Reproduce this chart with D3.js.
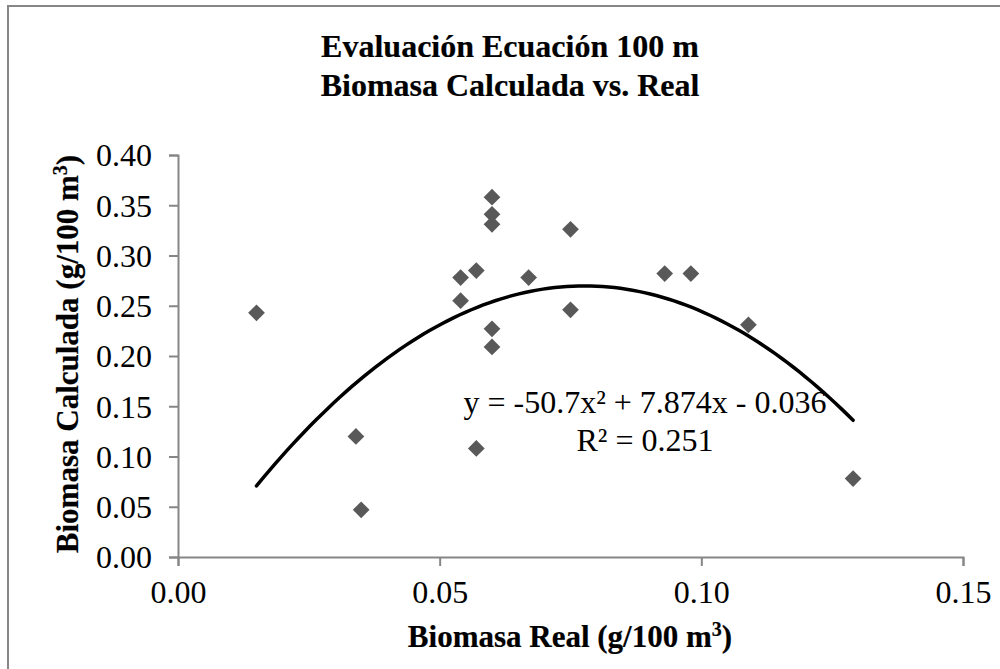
<!DOCTYPE html>
<html>
<head>
<meta charset="utf-8">
<script src="https://cdn.jsdelivr.net/npm/d3@7"></script>
</head>
<body style="margin:0;padding:0;background:#fff;">
<script>
// ---- data ----
const realX = [0.015, 0.034, 0.035, 0.054, 0.054, 0.057, 0.057, 0.060, 0.060, 0.060, 0.060, 0.060, 0.067, 0.075, 0.075, 0.093, 0.098, 0.109, 0.129];
const calcY = [0.243, 0.120, 0.047, 0.278, 0.255, 0.285, 0.108, 0.358, 0.341, 0.331, 0.227, 0.209, 0.278, 0.326, 0.246, 0.282, 0.282, 0.231, 0.078];
const xTicks = [0.00, 0.05, 0.10, 0.15];
const yTicks = [0.00, 0.05, 0.10, 0.15, 0.20, 0.25, 0.30, 0.35, 0.40];
const trendCoef = [-50.7, 7.874, -0.036]; // a x^2 + b x + c (from chart equation)
const trendRange = [0.015, 0.129];
const titleLines = ["Evaluación Ecuación 100 m", "Biomasa Calculada vs. Real"];
const eqLines = ["y = -50.7x² + 7.874x - 0.036", "R² = 0.251"];

const SERIF = "'Liberation Serif', 'Times New Roman', serif";
const W = 1000, H = 669;
const svg = d3.select("body").append("svg").attr("width", W).attr("height", H)
  .style("display", "block");

function boldText(sel, size) {
  return sel.style("font-family", SERIF).style("font-size", size + "px")
    .style("font-weight", "bold").attr("fill", "#000")
    .attr("stroke", "#000").attr("stroke-width", 0.2);
}

// outer border
svg.append("rect").attr("x", 8).attr("y", 6).attr("width", 1100).attr("height", 800)
  .attr("fill", "none").attr("stroke", "#878787").attr("stroke-width", 2);

const x = d3.scaleLinear().domain([0, 0.15]).range([178, 963]);
const y = d3.scaleLinear().domain([0, 0.40]).range([557, 155]);

const FS = 32;

// title
boldText(svg.append("text").attr("text-anchor", "middle"), 32)
  .selectAll("tspan").data(titleLines).join("tspan")
  .attr("x", 510).attr("y", (d, i) => 57 + i * 39).text(d => d);

// axes
const axisColor = "#868686";
const gx = svg.append("g").attr("transform", "translate(0,557)")
  .call(d3.axisBottom(x).tickValues(xTicks).tickFormat(d3.format(".2f")).tickSize(9).tickPadding(14));
const gy = svg.append("g").attr("transform", "translate(178,0)")
  .call(d3.axisLeft(y).tickValues(yTicks).tickFormat(d3.format(".2f")).tickSize(9).tickPadding(17));
[gx, gy].forEach(g => {
  g.select(".domain").attr("stroke", axisColor).attr("stroke-width", 2);
  g.selectAll(".tick line").attr("stroke", axisColor).attr("stroke-width", 2);
  g.selectAll(".tick text").style("font-size", FS + "px")
    .style("font-family", SERIF).attr("fill", "#000");
});
gx.selectAll(".tick text").attr("dy", "0.71em");
gy.selectAll(".tick text").attr("dy", "0.34em");

// markers
const diamond = d3.symbol().type(d3.symbolSquare).size(140);
svg.append("g").selectAll("path").data(realX.map((v, i) => [v, calcY[i]])).join("path")
  .attr("d", diamond)
  .attr("transform", d => `translate(${x(d[0])},${y(d[1])}) rotate(45)`)
  .attr("fill", "#595959");

// trendline
const [a, b, c] = trendCoef;
const tx = d3.range(0, 101).map(i => trendRange[0] + (trendRange[1] - trendRange[0]) * i / 100);
svg.append("path")
  .datum(tx.map(v => [v, a * v * v + b * v + c]))
  .attr("d", d3.line().x(d => x(d[0])).y(d => y(d[1])))
  .attr("fill", "none").attr("stroke", "#000").attr("stroke-width", 3.5).attr("stroke-linecap", "round");

// equation
svg.append("g").selectAll("text").data(eqLines).join("text")
  .attr("x", 645).attr("y", (d, i) => 413 + i * 38).attr("text-anchor", "middle")
  .style("font-family", SERIF).style("font-size", FS + "px").attr("fill", "#000")
  .text(d => d);

// axis titles
const xt = boldText(svg.append("text").attr("x", 570).attr("y", 647).attr("text-anchor", "middle"), 31);
xt.append("tspan").text("Biomasa Real (g/100 m");
xt.append("tspan").attr("dy", -11).style("font-size", "20px").text("3");
xt.append("tspan").attr("dy", 11).text(")");

const yt = boldText(svg.append("text").attr("transform", "translate(78,354) rotate(-90)").attr("text-anchor", "middle"), 31);
yt.append("tspan").text("Biomasa Calculada (g/100 m");
yt.append("tspan").attr("dy", -11).style("font-size", "20px").text("3");
yt.append("tspan").attr("dy", 11).text(")");
</script>
</body>
</html>
